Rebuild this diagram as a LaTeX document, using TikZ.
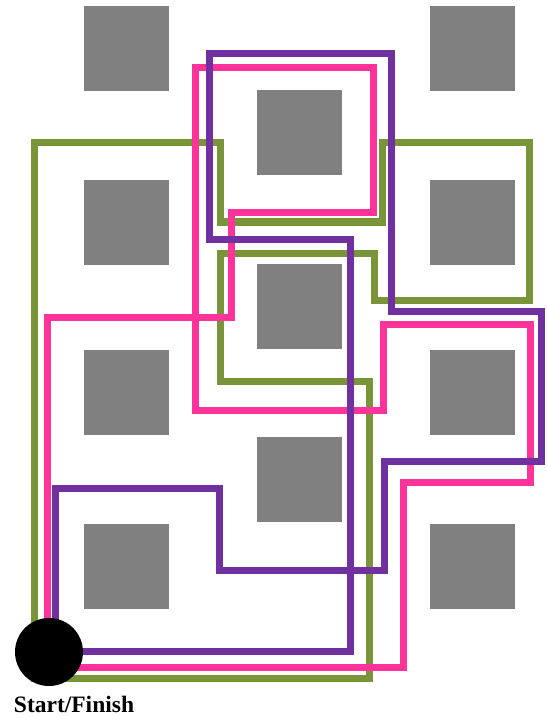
\documentclass[tikz,border=0pt]{standalone}
\usepackage{fontspec}
\setmainfont{Liberation Serif}
\definecolor{routegreen}{HTML}{7A943A}
\definecolor{routepink}{HTML}{FF3399}
\definecolor{routepurple}{HTML}{7030A0}

\begin{document}
\begin{tikzpicture}[x=1pt,y=-1pt,
    route/.style={line width=7pt,line join=miter},
    block/.style={fill=gray}]
    \useasboundingbox (0,0) rectangle (546,719);

    %======================================================
    % blocks
    %======================================================
    \foreach \y in {6,180,350,524}{
        \fill[block] (84,\y) rectangle ++(85,85);
        \fill[block] (430,\y) rectangle ++(85,85);
    }
    \foreach \y in {90,264,437}{
        \fill[block] (257,\y) rectangle ++(85,85);
    }

    %======================================================
    % routes
    %======================================================
    % green route
    \draw[route,routegreen] (34,678) -- (34,143) -- (220,143) -- (220,222)
        -- (382,222) -- (382,143) -- (529,143) -- (529,300) -- (374,300)
        -- (374,253) -- (220,253) -- (220,381) -- (369,381) -- (369,678)
        -- cycle;

    % pink route
    \draw[route,routepink] (47,667) -- (47,317) -- (231,317) -- (231,213)
        -- (373,213) -- (373,68) -- (195,68) -- (195,410) -- (383,410)
        -- (383,324) -- (530,324) -- (530,482) -- (403,482) -- (403,667)
        -- cycle;

    % purple route
    \draw[route,routepurple] (55,651) -- (55,488) -- (219,488) -- (219,570)
        -- (384,570) -- (384,461) -- (541,461) -- (541,311) -- (391,311)
        -- (391,54) -- (209,54) -- (209,239) -- (350,239) -- (350,651)
        -- cycle;

    %======================================================
    % start / finish
    %======================================================
    \node[circle,fill=black,minimum size=68pt,inner sep=0pt] (start) at (49,652) {};
    \node[font=\fontsize{23.5}{26}\selectfont\bfseries] (startlbl) at (74,704) {Start/Finish};
\end{tikzpicture}
\end{document}
